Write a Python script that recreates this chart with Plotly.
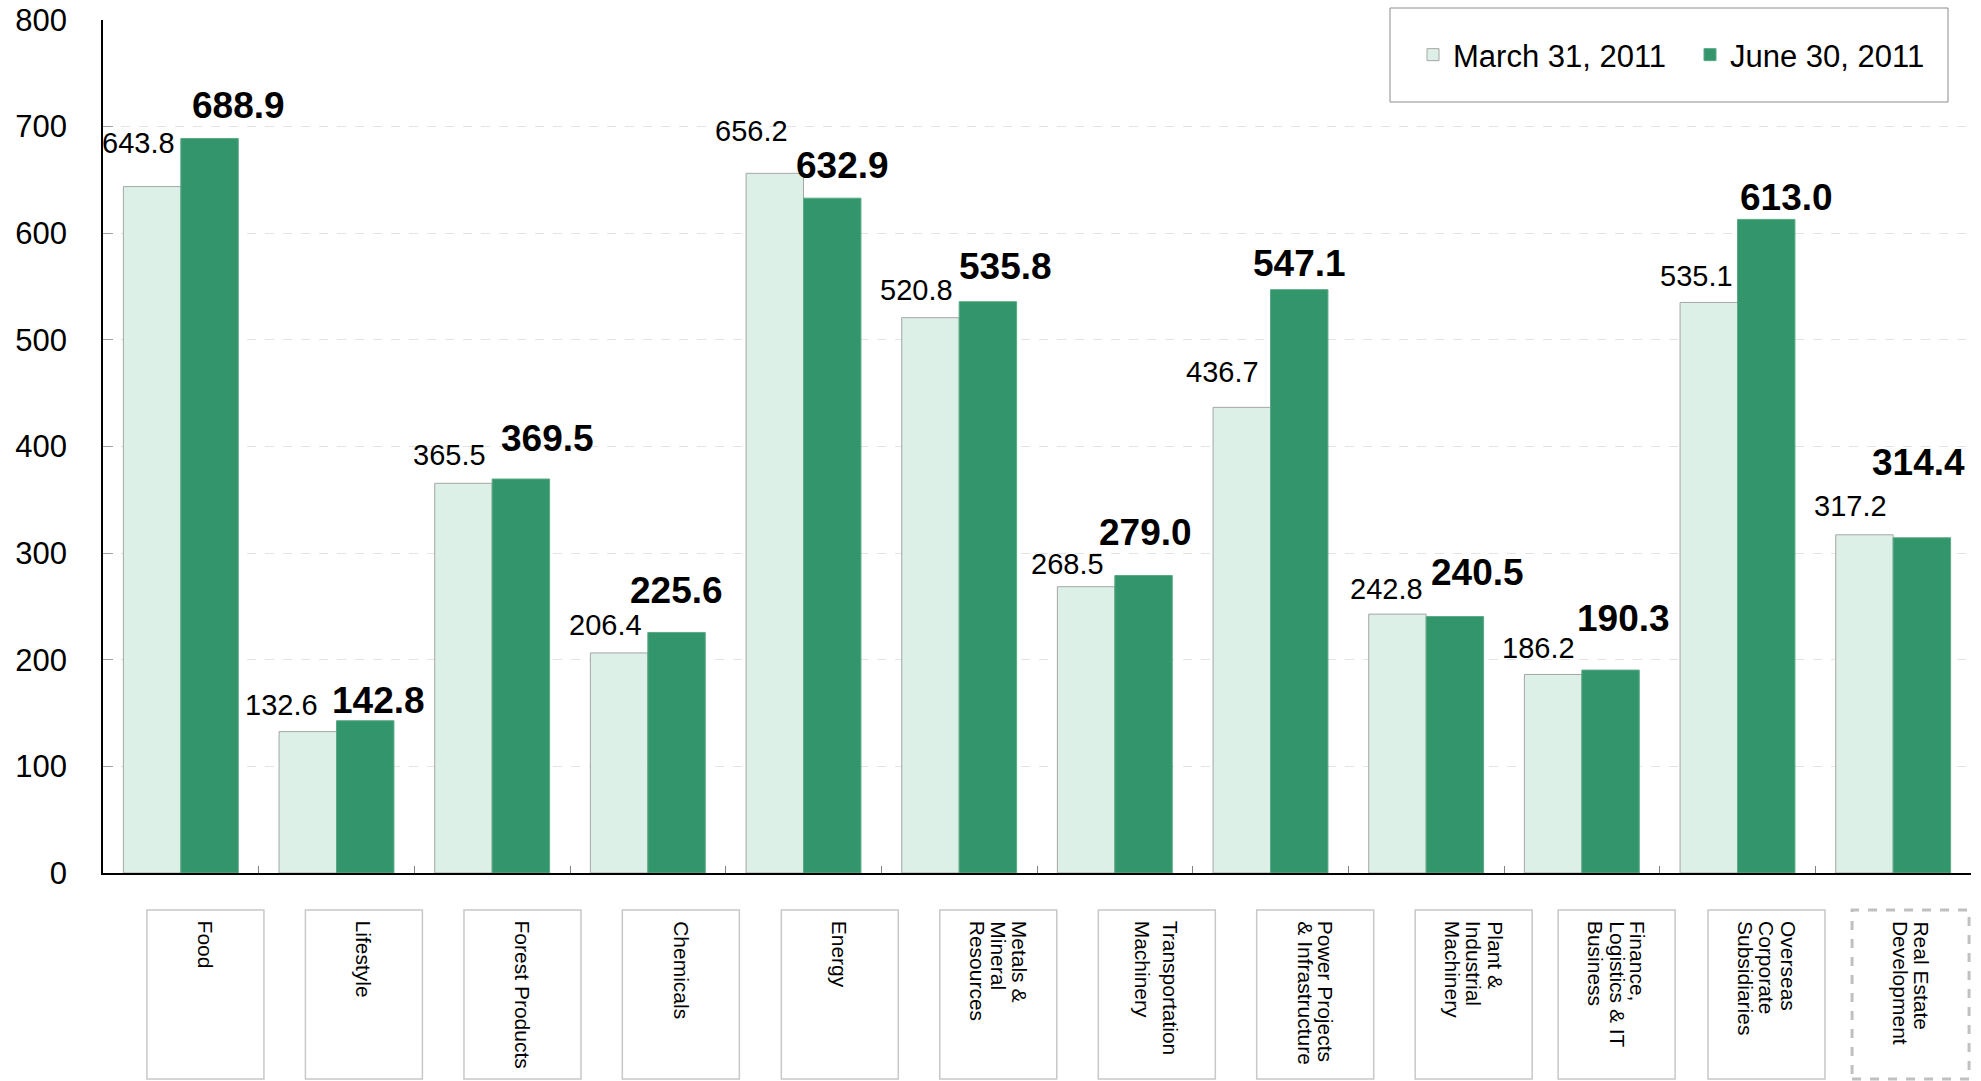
import plotly.graph_objects as go

# ---------------- data ----------------
categories = ["Food", "Lifestyle", "Forest Products", "Chemicals", "Energy",
              "Metals & Mineral Resources", "Transportation Machinery",
              "Power Projects & Infrastructure", "Plant & Industrial Machinery",
              "Finance, Logistics & IT Business", "Overseas Corporate Subsidiaries",
              "Real Estate Development"]
category_lines = [["Food"], ["Lifestyle"], ["Forest Products"], ["Chemicals"], ["Energy"],
                  ["Metals &", "Mineral", "Resources"],
                  ["Transportation", "Machinery"],
                  ["Power Projects", "& Infrastructure"],
                  ["Plant &", "Industrial", "Machinery"],
                  ["Finance,", "Logistics & IT", "Business"],
                  ["Overseas", "Corporate", "Subsidiaries"],
                  ["Real Estate", "Development"]]
march_2011 = [643.8, 132.6, 365.5, 206.4, 656.2, 520.8, 268.5, 436.7, 242.8, 186.2, 535.1, 317.2]
june_2011 = [688.9, 142.8, 369.5, 225.6, 632.9, 535.8, 279.0, 547.1, 240.5, 190.3, 613.0, 314.4]
series_names = ["March 31, 2011", "June 30, 2011"]
y_ticks = [0, 100, 200, 300, 400, 500, 600, 700, 800]

# ---------------- label nudges (px) ----------------
march_dx = [-13.5, -26, -13.5, -13.5, -23, -13.5, -19, -19, -11, -15, -12.6, -14]
march_gap = [33, 16, 18, 18, 32, 17, 12, 25, 15, 16, 16, 18]
june_dx = [29, 13, 27, 0, 10, 18, 2, 0, 23, 13, 20, -3.5]
june_gap = [20, 7, 27, 29, 19, 22, 30, 13, 31, 38, 9, 62]
box_shift = [24.6, 27.4, 30.3, 33, 36.3, 39.1, 42, 44.7, 47.5, 34.8, 29, 17.4]
line_gap = [21, 21, 21, 21, 21, 21, 28, 21, 21, 21, 21.5, 21]

# ---------------- style ----------------
FONT = "Liberation Sans, Arial, sans-serif"
LIGHT = "#dcf0e7"
DARK = "#33956b"
W, H = 1981, 1081
ML, MR, MT, MB = 103, 10, 20, 208
plot_w = W - ML - MR
plot_h = H - MT - MB
cat_px = plot_w / len(categories)
BARGAP = 0.262
bar_off = (1 - BARGAP) * cat_px / 4
NORM_SIZE, BOLD_SIZE = 29, 37

def py(px):  # pixel y (from top) -> paper y
    return (H - MB - px) / plot_h

def px_x(px):  # pixel x -> paper x
    return (px - ML) / plot_w

fig = go.Figure()
fig.add_trace(go.Bar(x=categories, y=march_2011, name=series_names[0],
                     marker=dict(color=LIGHT, line=dict(color="#a6a6a6", width=1))))
fig.add_trace(go.Bar(x=categories, y=june_2011, name=series_names[1],
                     marker=dict(color=DARK, line=dict(color="#5aa985", width=1))))

annotations = []
for i, c in enumerate(categories):
    annotations.append(dict(x=c, y=march_2011[i], xref="x", yref="y",
                            text=f"{march_2011[i]:.1f}", showarrow=False,
                            xanchor="center", yanchor="middle",
                            xshift=-bar_off + march_dx[i],
                            yshift=march_gap[i] + 0.358 * NORM_SIZE,
                            font=dict(family=FONT, size=NORM_SIZE, color="black")))
    annotations.append(dict(x=c, y=june_2011[i], xref="x", yref="y",
                            text=f"<b>{june_2011[i]:.1f}</b>", showarrow=False,
                            xanchor="center", yanchor="middle",
                            xshift=bar_off + june_dx[i],
                            yshift=june_gap[i] + 0.358 * BOLD_SIZE,
                            font=dict(family=FONT, size=BOLD_SIZE, color="black")))

shapes = []
for i, lines in enumerate(category_lines):
    cx = i + box_shift[i] / cat_px
    hw = 58.5 / cat_px
    dashed = (i == len(category_lines) - 1)
    shapes.append(dict(type="rect", xref="x", yref="paper",
                       x0=cx - hw, x1=cx + hw, y0=py(1079), y1=py(910),
                       line=dict(color="#c0c0c0" if dashed else "#c8c8c8",
                                 width=3 if dashed else 1.5,
                                 dash="dash" if dashed else "solid"),
                       fillcolor="rgba(0,0,0,0)", layer="above"))
    n = len(lines)
    for k, t in enumerate(lines):
        annotations.append(dict(x=cx, y=py(919), xref="x", yref="paper",
                                text=t, showarrow=False, textangle=90,
                                xanchor="center", yanchor="top",
                                xshift=((n - 1) / 2 - k) * line_gap[i],
                                font=dict(family=FONT, size=21, color="black")))

# legend frame
shapes.append(dict(type="rect", xref="paper", yref="paper",
                   x0=px_x(1390), x1=px_x(1948), y0=py(102), y1=py(8),
                   line=dict(color="#8c8c8c", width=1), fillcolor="white", layer="above"))

fig.update_layout(
    width=W, height=H,
    margin=dict(l=ML, r=MR, t=MT, b=MB, autoexpand=False),
    paper_bgcolor="white", plot_bgcolor="white",
    barmode="group", bargap=BARGAP, bargroupgap=0,
    font=dict(family=FONT, color="black"),
    showlegend=True,
    legend=dict(orientation="h", x=px_x(1413), xanchor="left",
                y=py(55), yanchor="middle",
                font=dict(family=FONT, size=31, color="black"),
                bgcolor="rgba(0,0,0,0)", borderwidth=0,
                entrywidth=232, entrywidthmode="pixels"),
    xaxis=dict(type="category", range=[-0.5, len(categories) - 0.5],
               showticklabels=False, ticks="inside", tickson="boundaries",
               ticklen=7, tickcolor="#808080", showline=True, automargin=False,
               linecolor="black", linewidth=1.5, showgrid=False, zeroline=False),
    yaxis=dict(range=[0, 800], tickvals=y_ticks, ticks="inside", ticklen=10,
               tickcolor="#a0a0a0", showline=True, linecolor="black", linewidth=1.5,
               showgrid=True, gridcolor="#e3e3e3", griddash="dash", gridwidth=1,
               zeroline=False, automargin=False,
               tickfont=dict(family=FONT, size=31, color="black"),
               ticklabelstandoff=28),
    annotations=annotations,
    shapes=shapes,
)

fig.write_html("out.html", config={"displayModeBar": False},
               post_script="document.body.style.margin='0';document.body.style.overflow='hidden';")
